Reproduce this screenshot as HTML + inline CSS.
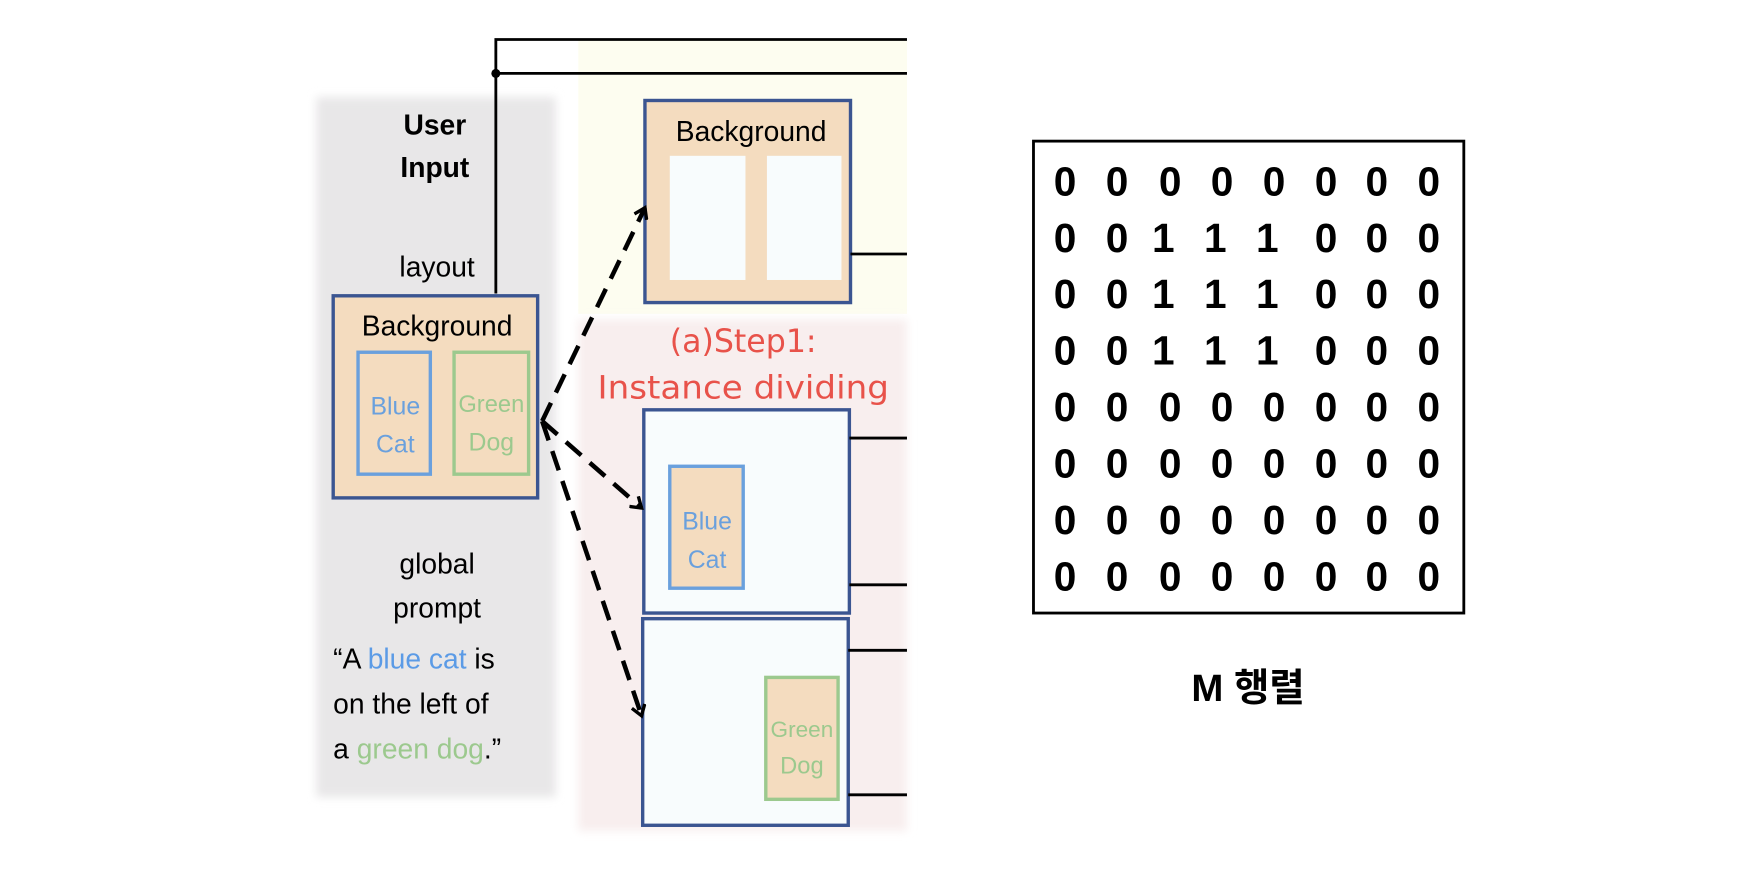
<!DOCTYPE html>
<html><head><meta charset="utf-8"><style>
html,body{margin:0;padding:0;background:#fff;width:1762px;height:884px;overflow:hidden}
svg{display:block}
text{font-family:"Liberation Sans","Noto Sans CJK KR",sans-serif}
</style></head><body>
<svg width="1762" height="884" viewBox="0 0 1560 783" preserveAspectRatio="none" xmlns="http://www.w3.org/2000/svg">
<defs>
<marker id="ah" markerWidth="14" markerHeight="14" refX="10" refY="7" orient="auto" markerUnits="userSpaceOnUse">
<path d="M1,1 L10,7 L1,13" fill="none" stroke="#000" stroke-width="3"/>
</marker>
<filter id="blur"><feGaussianBlur stdDeviation="4"/></filter>
</defs>
<g transform="translate(-3,-2)">
<rect x="283" y="88" width="212" height="620" fill="#e8e7e8" filter="url(#blur)"/>
<rect x="515" y="37" width="291" height="243" fill="#fdfdf0"/>
<rect x="515" y="285" width="291" height="453" fill="#f8eeee" filter="url(#blur)"/>
<path d="M442,262 V37 H806 M442,67 H806" fill="none" stroke="#000" stroke-width="2.5"/>
<circle cx="442" cy="67" r="4" fill="#000"/>
<text x="388" y="121" font-size="25" font-weight="bold" text-anchor="middle">User</text>
<text x="388" y="159" font-size="25" font-weight="bold" text-anchor="middle">Input</text>
<text x="390" y="247" font-size="25" text-anchor="middle">layout</text>
<rect x="298" y="264" width="181" height="179" fill="#f4dcbf" stroke="#3b5591" stroke-width="3"/>
<text x="390" y="299" font-size="25" text-anchor="middle">Background</text>
<rect x="320" y="314" width="64" height="108" fill="none" stroke="#6aa0dd" stroke-width="3"/>
<text x="353" y="369" font-size="22" fill="#6aa0dd" text-anchor="middle">Blue</text>
<text x="353" y="403" font-size="22" fill="#6aa0dd" text-anchor="middle">Cat</text>
<rect x="405" y="314" width="66" height="108" fill="none" stroke="#9cc98e" stroke-width="3"/>
<text x="438" y="367" font-size="21" fill="#9cc98e" text-anchor="middle">Green</text>
<text x="438" y="401" font-size="22" fill="#9cc98e" text-anchor="middle">Dog</text>
<text x="390" y="510" font-size="25" text-anchor="middle">global</text>
<text x="390" y="549" font-size="25" text-anchor="middle">prompt</text>
<text x="298" y="594" font-size="25">“A <tspan fill="#5b9be6">blue cat</tspan> is</text>
<text x="298" y="634" font-size="25">on the left of</text>
<text x="298" y="674" font-size="25">a <tspan fill="#9cc98e">green dog</tspan>.”</text>
<rect x="574" y="91" width="182" height="179" fill="#f4dcbf" stroke="#3b5591" stroke-width="3"/>
<text x="668" y="127" font-size="25" text-anchor="middle">Background</text>
<rect x="596" y="140" width="67" height="110" fill="#f8fcfd"/>
<rect x="682" y="140" width="66" height="110" fill="#f8fcfd"/>
<path d="M756,227 H806" stroke="#000" stroke-width="2.5"/>
<text x="661" y="314" font-size="28" fill="#e8524a" text-anchor="middle" style="font-family:'DejaVu Sans',sans-serif">(a)Step1:</text>
<text x="661" y="355" font-size="28" fill="#e8524a" text-anchor="middle" style="font-family:'DejaVu Sans',sans-serif" textLength="258" lengthAdjust="spacingAndGlyphs">Instance dividing</text>
<rect x="573" y="365" width="182" height="180" fill="#f8fcfd" stroke="#3b5591" stroke-width="3"/>
<rect x="596" y="415" width="65" height="108" fill="#f4dcbf" stroke="#6aa0dd" stroke-width="3"/>
<text x="629" y="471" font-size="22" fill="#6aa0dd" text-anchor="middle">Blue</text>
<text x="629" y="505" font-size="22" fill="#6aa0dd" text-anchor="middle">Cat</text>
<path d="M755,390 H806 M755,520 H806" stroke="#000" stroke-width="2.5"/>
<rect x="572" y="550" width="182" height="183" fill="#f8fcfd" stroke="#3b5591" stroke-width="3"/>
<rect x="681" y="602" width="64" height="108" fill="#f4dcbf" stroke="#9cc98e" stroke-width="3"/>
<text x="713" y="655" font-size="20" fill="#9cc98e" text-anchor="middle">Green</text>
<text x="713" y="687" font-size="21" fill="#9cc98e" text-anchor="middle">Dog</text>
<path d="M754,578 H806 M754,706 H806" stroke="#000" stroke-width="2.5"/>
<g fill="none" stroke="#000" stroke-width="4" stroke-dasharray="18,10">
<path d="M483,375 L574,186" marker-end="url(#ah)"/>
<path d="M483,375 L571,452" marker-end="url(#ah)"/>
<path d="M483,375 L571,636" marker-end="url(#ah)"/>
</g>
<rect x="918" y="127" width="381" height="418" fill="none" stroke="#000" stroke-width="2.5"/>
<g font-size="36" font-weight="bold" text-anchor="middle">
<text x="946" y="175">0</text><text x="992" y="175">0</text><text x="1039" y="175">0</text><text x="1085" y="175">0</text><text x="1131" y="175">0</text><text x="1177" y="175">0</text><text x="1222" y="175">0</text><text x="1268" y="175">0</text>
<text x="946" y="225">0</text><text x="992" y="225">0</text><text x="1033" y="225">1</text><text x="1079" y="225">1</text><text x="1125" y="225">1</text><text x="1177" y="225">0</text><text x="1222" y="225">0</text><text x="1268" y="225">0</text>
<text x="946" y="275">0</text><text x="992" y="275">0</text><text x="1033" y="275">1</text><text x="1079" y="275">1</text><text x="1125" y="275">1</text><text x="1177" y="275">0</text><text x="1222" y="275">0</text><text x="1268" y="275">0</text>
<text x="946" y="325">0</text><text x="992" y="325">0</text><text x="1033" y="325">1</text><text x="1079" y="325">1</text><text x="1125" y="325">1</text><text x="1177" y="325">0</text><text x="1222" y="325">0</text><text x="1268" y="325">0</text>
<text x="946" y="375">0</text><text x="992" y="375">0</text><text x="1039" y="375">0</text><text x="1085" y="375">0</text><text x="1131" y="375">0</text><text x="1177" y="375">0</text><text x="1222" y="375">0</text><text x="1268" y="375">0</text>
<text x="946" y="425">0</text><text x="992" y="425">0</text><text x="1039" y="425">0</text><text x="1085" y="425">0</text><text x="1131" y="425">0</text><text x="1177" y="425">0</text><text x="1222" y="425">0</text><text x="1268" y="425">0</text>
<text x="946" y="475">0</text><text x="992" y="475">0</text><text x="1039" y="475">0</text><text x="1085" y="475">0</text><text x="1131" y="475">0</text><text x="1177" y="475">0</text><text x="1222" y="475">0</text><text x="1268" y="475">0</text>
<text x="946" y="525">0</text><text x="992" y="525">0</text><text x="1039" y="525">0</text><text x="1085" y="525">0</text><text x="1131" y="525">0</text><text x="1177" y="525">0</text><text x="1222" y="525">0</text><text x="1268" y="525">0</text>
</g>
<text x="1108" y="623" font-size="34" font-weight="bold" text-anchor="middle">M 행렬</text>
</g>
</svg>
</body></html>
